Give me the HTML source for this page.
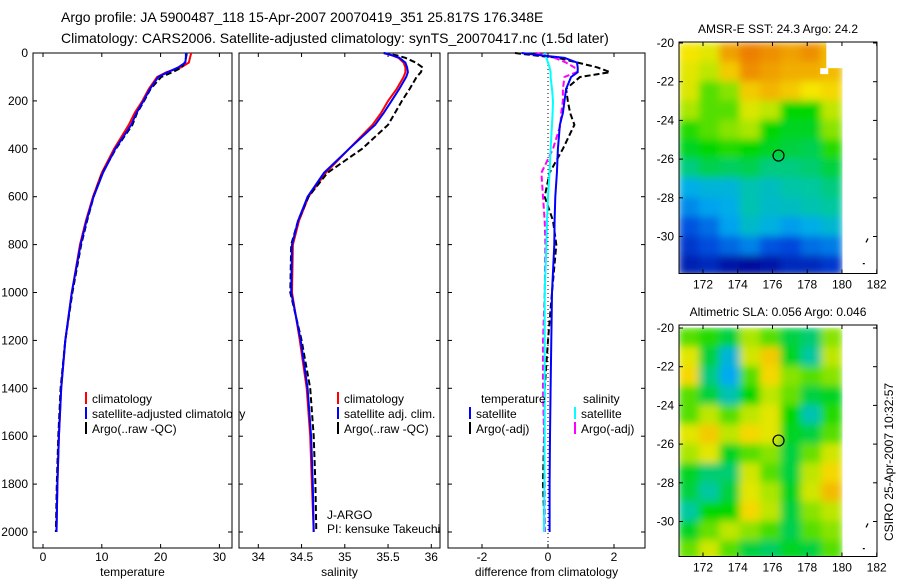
<!DOCTYPE html>
<html><head><meta charset="utf-8"><style>
body{margin:0;background:#fff;width:900px;height:580px;overflow:hidden}
svg{display:block;font-family:"Liberation Sans",sans-serif}
</style></head><body>
<svg id="s" width="900" height="580" viewBox="0 0 900 580" xmlns="http://www.w3.org/2000/svg">
<defs>
<filter id="bl" x="0" y="0" width="1" height="1"><feGaussianBlur stdDeviation="4"/></filter>
<clipPath id="c1"><rect x="679" y="42" width="164" height="231"/></clipPath>
<clipPath id="c2"><rect x="679" y="325" width="164" height="232"/></clipPath>
</defs>
<text x="61" y="22" font-size="14">Argo profile: JA 5900487_118 15-Apr-2007 20070419_351 25.817S 176.348E</text>
<text x="61" y="43" font-size="14">Climatology: CARS2006. Satellite-adjusted climatology: synTS_20070417.nc (1.5d later)</text>
<g id="g"></g>
</svg>
<script>
// ---- data ----
const depths=[0,10,20,40,60,80,100,150,200,250,300,400,500,600,700,800,1000,1200,1400,1600,1800,2000];
const tempClim=[25.2,25.1,25.0,24.8,23.5,21.0,19.4,18.0,16.9,15.6,14.6,12.1,10.0,8.5,7.3,6.3,4.9,3.8,3.1,2.7,2.45,2.3];
const tempSat=[24.3,24.3,24.3,24.2,23.0,21.2,19.6,18.2,17.1,15.9,15.0,12.3,10.2,8.6,7.4,6.4,4.9,3.8,3.1,2.7,2.45,2.3];
const tempArgo=[24.4,24.4,24.3,24.1,23.6,22.0,20.1,18.3,17.2,16.0,15.2,12.4,10.1,8.6,7.5,6.5,5.0,3.8,3.0,2.6,2.35,2.2];
const salClim=[35.45,35.55,35.62,35.68,35.7,35.7,35.68,35.6,35.5,35.42,35.32,35.05,34.78,34.58,34.47,34.40,34.39,34.48,34.56,34.60,34.62,34.64];
const salSat=[35.45,35.55,35.63,35.70,35.72,35.73,35.71,35.63,35.54,35.45,35.35,35.05,34.76,34.57,34.46,34.39,34.38,34.49,34.57,34.61,34.63,34.64];
const salArgo=[35.45,35.6,35.7,35.82,35.9,35.88,35.83,35.75,35.66,35.58,35.5,35.2,34.8,34.58,34.46,34.38,34.37,34.50,34.60,34.64,34.66,34.67];
const dTempSat=[-0.8,-0.2,0.5,0.88,0.9,0.9,0.7,0.55,0.5,0.45,0.36,0.3,0.27,0.22,0.2,0.19,0.12,0.1,0.08,0.06,0.05,0.05];
const dTempArgo=[-1.0,-0.4,0.3,0.9,1.5,1.88,0.97,0.55,0.6,0.67,0.8,0.45,0.05,-0.1,0.15,0.25,0.12,0.0,-0.1,-0.12,-0.15,-0.1];
const dSalSat=[-0.1,-0.08,-0.05,0.0,0.05,0.08,0.08,0.12,0.15,0.14,0.12,0.08,0.05,0.0,-0.03,-0.05,-0.1,-0.1,-0.1,-0.1,-0.11,-0.12];
const dSalArgo=[-0.35,-0.1,0.2,0.55,0.8,0.87,0.5,0.45,0.45,0.4,0.38,0.15,-0.2,-0.15,-0.1,-0.08,-0.1,-0.15,-0.15,-0.12,-0.1,-0.1];
const depthTicks=[0,200,400,600,800,1000,1200,1400,1600,1800,2000];
const tempTicks=[0,10,20,30];
const salTicks=[34,34.5,35,35.5,36];
const diffTicks=[-2,0,2];
const lonTicks=[172,174,176,178,180,182];
const latTicks=[-20,-22,-24,-26,-28,-30];
const sstGrid=[
[.68,.66,.78,.82,.80,.78,.80,null],
[.66,.62,.72,.80,.78,.76,.76,.74],
[.65,.55,.58,.72,.75,.72,.68,.70],
[.60,.55,.55,.65,.62,.50,.50,.62],
[.52,.55,.58,.60,.50,.48,.48,.58],
[.48,.50,.52,.50,.48,.46,.45,.52],
[.42,.45,.44,.45,.42,.42,.43,.46],
[.31,.33,.33,.38,.36,.39,.40,.42],
[.25,.29,.31,.38,.35,.36,.38,.40],
[.17,.21,.29,.35,.32,.28,.31,.34],
[.12,.16,.20,.24,.17,.15,.21,.23],
[.07,.09,.05,.03,.05,.09,.09,.12]];
const slaGrid=[
[.55,.52,.46,.60,.55,.46,.43,.58],
[.66,.46,.33,.64,.72,.48,.40,.62],
[.70,.42,.30,.55,.70,.58,.55,.58],
[.55,.46,.38,.50,.62,.56,.46,.48],
[.55,.62,.55,.62,.66,.50,.38,.52],
[.66,.72,.62,.70,.66,.48,.46,.55],
[.60,.66,.48,.55,.58,.46,.56,.64],
[.48,.43,.43,.64,.55,.46,.62,.70],
[.46,.40,.46,.66,.60,.48,.64,.74],
[.40,.50,.50,.70,.62,.46,.58,.62],
[.48,.56,.62,.58,.54,.45,.55,.58],
[.56,.64,.55,.46,.44,.48,.46,.55]];
const argoLon=176.348, argoLat=-25.817;
// ---- helpers ----
const NS="http://www.w3.org/2000/svg", G=document.getElementById('g');
function mk(t,a,p){const e=document.createElementNS(NS,t);for(const k in a)e.setAttribute(k,a[k]);(p||G).appendChild(e);return e;}
const yD=d=>53+d*0.2395;
const P=[
 {x0:33,x1:232,xs:v=>43+v*5.88,ticks:tempTicks,label:'temperature'},
 {x0:239,x1:440,xs:v=>258.3+(v-34)*86.5,ticks:salTicks,label:'salinity'},
 {x0:448,x1:645,xs:v=>548+v*33,ticks:diffTicks,label:'difference from climatology'}];
P.forEach((p,i)=>{
 const r=mk('rect',{x:p.x0,y:53,width:p.x1-p.x0,height:495,fill:'#fff',stroke:'#000','stroke-width':1});
 
 
 depthTicks.forEach(d=>{const y=yD(d);mk('line',{x1:p.x0,y1:y,x2:p.x0+4,y2:y,stroke:'#000'});mk('line',{x1:p.x1,y1:y,x2:p.x1-4,y2:y,stroke:'#000'});
  if(i==0){const t=mk('text',{x:28,y:y+4,'font-size':12,'text-anchor':'end'});t.textContent=d;
   
   }});
 p.ticks.forEach(v=>{const x=p.xs(v);mk('line',{x1:x,y1:548,x2:x,y2:544,stroke:'#000'});mk('line',{x1:x,y1:53,x2:x,y2:57,stroke:'#000'});
  const t=mk('text',{x:x,y:561,'font-size':12,'text-anchor':'middle'});t.textContent=v;
  
  });
 const t=mk('text',{x:(p.x0+p.x1)/2,y:576,'font-size':12,'text-anchor':'middle'});t.textContent=p.label;
 
 
});
function line(p,arr,col,dash,name){
 const pts=arr.map((v,k)=>p.xs(v).toFixed(1)+','+yD(depths[k]).toFixed(1)).join(' ');
 const a={points:pts,fill:'none',stroke:col,'stroke-width':2};if(dash)a['stroke-dasharray']=dash;
 const e=mk('polyline',a);
 
 }
mk('line',{x1:548,y1:53,x2:548,y2:548,stroke:'#000','stroke-dasharray':'1,3'});
line(P[0],tempClim,'#f00',null,'temp-climatology-line');
line(P[0],tempArgo,'#000','6,3','temp-argo-line');
line(P[0],tempSat,'#00f',null,'temp-satellite-line');
line(P[1],salClim,'#f00',null,'sal-climatology-line');
line(P[1],salArgo,'#000','6,3','sal-argo-line');
line(P[1],salSat,'#00f',null,'sal-satellite-line');
line(P[2],dTempArgo,'#000','6,3','dtemp-argo-line');
line(P[2],dSalArgo,'#f0f','6,3','dsal-argo-line');
line(P[2],dSalSat,'#0ff',null,'dsal-satellite-line');
line(P[2],dTempSat,'#00f',null,'dtemp-satellite-line');
function leg(x,y,col,txt,name){
 if(col){mk('rect',{x:x,y:y-10,width:2,height:12,fill:col});}
 const t=mk('text',{x:x+(col?7:0),y:y+1,'font-size':12});t.textContent=txt;
 
 }
leg(85,402,'#f00','climatology','legend-climatology');
leg(85,417,'#00f','satellite-adjusted climatology','legend-satellite-adjusted');
leg(85,432,'#000','Argo(..raw -QC)','legend-argo');
mk('rect',{x:233,y:380,width:6,height:60,fill:'#fff'});
mk('line',{x1:239,y1:380,x2:239,y2:440,stroke:'#000'});
leg(337,402,'#f00','climatology','legend2-climatology');
leg(337,417,'#00f','satellite adj. clim.','legend2-satellite');
leg(337,432,'#000','Argo(..raw -QC)','legend2-argo');
leg(481,402,null,'temperature','legend3-temperature-header');
leg(469,417,'#00f','satellite','legend3-temp-satellite');
leg(469,432,'#000','Argo(-adj)','legend3-temp-argo');
leg(583,402,null,'salinity','legend3-salinity-header');
leg(574,417,'#0ff','satellite','legend3-sal-satellite');
leg(574,432,'#f0f','Argo(-adj)','legend3-sal-argo');
leg(327,518,null,'J-ARGO','j-argo-label');
leg(327,532,null,'PI: kensuke Takeuchi','pi-label');
// ---- maps ----
const cmStops=[[0,[0,0,140]],[0.15,[0,70,220]],[0.3,[0,170,240]],[0.4,[0,200,160]],[0.5,[0,215,0]],[0.6,[170,230,0]],[0.68,[245,230,0]],[0.78,[240,160,0]],[0.9,[230,60,0]],[1,[150,0,0]]];
function cmap(v){v=Math.max(0,Math.min(1,v));for(let i=1;i<cmStops.length;i++){if(v<=cmStops[i][0]){const a=cmStops[i-1],b=cmStops[i],t=(v-a[0])/(b[0]-a[0]);const c=a[1].map((x,k)=>Math.round(x+(b[1][k]-x)*t));return `rgb(${c[0]},${c[1]},${c[2]})`;}}return 'rgb(150,0,0)';}
const lonX=l=>703+(l-172)*17.37;
function map(top,lat20,grid,clip,title,name){
 const yL=la=>lat20+(-20-la)*19.35;
 const bot=top+231.5;
 mk('rect',{x:679,y:top,width:198,height:bot-top,fill:'#fff'});
 const gg=mk('g',{'clip-path':'url(#'+clip+')'});
 const gi=mk('g',{filter:'url(#bl)'},gg);
 const w=(180-170.62)/8, h=1;
 grid.forEach((row,ri)=>row.forEach((v,ci)=>{
  const x=lonX(170.62+ci*w), y=yL(-20-ri*h);
  const c=mk('rect',{x:x-0.5,y:y-0.5,width:lonX(170.62+(ci+1)*w)-x+1,height:yL(-20-(ri+1)*h)-y+1,fill:v==null?cmap(grid[ri+1][ci]):cmap(v)},gi);
  
  }));
 if(grid===sstGrid){mk('rect',{x:lonX(179.1),y:top-2,width:lonX(180)-lonX(179.1)+1,height:yL(-21.3)-top+2,fill:'#fff'},gg);
   mk('rect',{x:lonX(178.75),y:yL(-21.3),width:8,height:6,fill:'#fff'},gg);}
 const f=mk('rect',{x:679,y:top,width:198,height:bot-top,fill:'none',stroke:'#000'});
 
 
 lonTicks.forEach(l=>{const x=lonX(l);mk('line',{x1:x,y1:bot,x2:x,y2:bot-4,stroke:'#000'});mk('line',{x1:x,y1:top,x2:x,y2:top+4,stroke:'#000'});
  const t=mk('text',{x:x,y:bot+15,'font-size':12,'text-anchor':'middle'});t.textContent=l;
  
  });
 latTicks.forEach(la=>{const y=yL(la);mk('line',{x1:679,y1:y,x2:683,y2:y,stroke:'#000'});mk('line',{x1:877,y1:y,x2:873,y2:y,stroke:'#000'});
  const t=mk('text',{x:674,y:y+4,'font-size':12,'text-anchor':'end'});t.textContent=la;
  
  });
 const t=mk('text',{x:778,y:top-9,'font-size':12,'text-anchor':'middle'});t.textContent=title;
 
 
 const c=mk('circle',{cx:lonX(argoLon),cy:yL(argoLat),r:5.5,fill:'none',stroke:'#000','stroke-width':1.2});
 
 
 mk('path',{d:`M${lonX(181.5)} ${yL(-30.1)} l-2 4 M${lonX(181.2)} ${yL(-31.4)} l2 0`,stroke:'#000','stroke-width':1.2,fill:'none'});
}
map(42,43,sstGrid,'c1','AMSR-E SST: 24.3 Argo: 24.2','sst-map');
map(325,328,slaGrid,'c2','Altimetric SLA: 0.056 Argo: 0.046','sla-map');
const cs=mk('text',{x:0,y:0,'font-size':12,'text-anchor':'middle',transform:'translate(893,462) rotate(-90)'});
cs.textContent='CSIRO 25-Apr-2007 10:32:57';


</script>
</body></html>
